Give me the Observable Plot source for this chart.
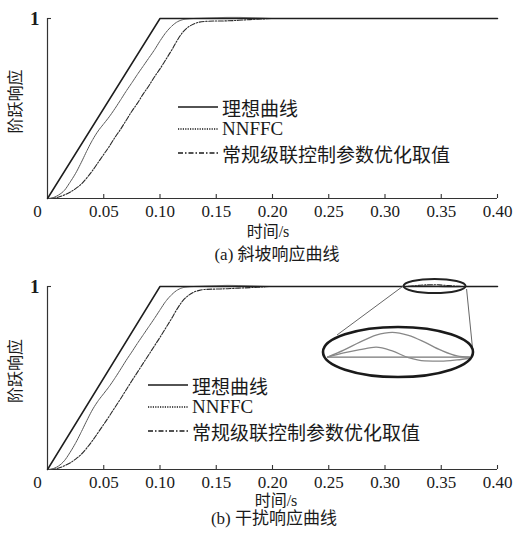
<!DOCTYPE html>
<html>
<head>
<meta charset="utf-8">
<script src="https://cdn.jsdelivr.net/npm/d3@7"></script>
<script src="https://cdn.jsdelivr.net/npm/@observablehq/plot@0.6"></script>
<style>
  html, body { margin: 0; padding: 0; background: #fff; }
  #wrap { position: relative; width: 527px; height: 542px; background: #fff; overflow: hidden;
          font-family: "Liberation Serif", "Noto Sans CJK SC", serif; color: #1a1a1a; }
  #wrap > * { position: absolute; }
  .lab { text-align: center; white-space: nowrap; font-size: 17px; line-height: 18px; }
  .leg { display: flex; align-items: center; height: 22px; font-size: 19px; white-space: nowrap; }
  .leg svg { margin-right: 4px; }
</style>
</head>
<body>
<div id="wrap"></div>
<script>
// ---------- data ----------
const xTicks = [0.05, 0.10, 0.15, 0.20, 0.25, 0.30, 0.35, 0.40];
const yTicks = [1];
const originTick = [0];
const seriesNames = ["理想曲线", "NNFFC", "常规级联控制参数优化取值"];

// ideal response
const idealT = [0, 0.1, 0.4];
const idealV = [0, 1, 1];

// (a) ramp response
const tA = [0,0.005,0.01,0.015,0.02,0.025,0.03,0.035,0.04,0.045,0.05,0.055,0.06,0.065,0.07,0.075,0.08,0.085,0.09,0.095,0.1,0.105,0.11,0.115,0.12,0.125,0.13,0.135,0.14,0.15,0.16,0.17,0.18,0.19,0.2,0.25,0.3,0.35,0.4];
const nnA = [0,0.005,0.02,0.045,0.09,0.14,0.2,0.265,0.325,0.375,0.415,0.455,0.5,0.548,0.597,0.643,0.69,0.735,0.78,0.825,0.875,0.92,0.955,0.98,0.993,0.998,1.0,1.001,1.002,1.004,1.006,1.006,1.004,1.002,1.0,1.0,1.0,1.0,1.0];
const convA = [0,0.002,0.008,0.02,0.035,0.055,0.08,0.115,0.155,0.2,0.245,0.29,0.34,0.385,0.435,0.485,0.53,0.58,0.625,0.675,0.72,0.77,0.82,0.875,0.922,0.952,0.97,0.98,0.984,0.986,0.987,0.99,0.994,0.997,1.0,1.0,1.0,1.0,1.0];

// (b) disturbance response
const tB = [0,0.005,0.01,0.015,0.02,0.025,0.03,0.035,0.04,0.045,0.05,0.055,0.06,0.065,0.07,0.075,0.08,0.085,0.09,0.095,0.1,0.105,0.11,0.115,0.12,0.125,0.13,0.135,0.14,0.15,0.16,0.17,0.18,0.19,0.2,0.25,0.3,
            0.318,0.324,0.33,0.336,0.342,0.348,0.354,0.36,0.366,0.371,0.4];
const nnB = [0,0.005,0.02,0.048,0.093,0.145,0.205,0.268,0.327,0.375,0.415,0.455,0.5,0.548,0.597,0.643,0.69,0.735,0.78,0.825,0.872,0.918,0.953,0.979,0.993,0.998,1.0,1.001,1.002,1.004,1.006,1.005,1.003,1.001,1.0,1.0,1.0,
             1.0,1.0017,1.003,1.004,1.0025,0.9998,0.9985,0.9984,0.9989,0.9996,1.0];
const convB = [0,0.002,0.008,0.02,0.036,0.057,0.083,0.118,0.158,0.202,0.247,0.292,0.34,0.387,0.436,0.485,0.532,0.58,0.627,0.675,0.722,0.772,0.822,0.875,0.92,0.95,0.969,0.979,0.984,0.986,0.988,0.991,0.994,0.997,1.0,1.0,1.0,
               1.0,1.0028,1.006,1.0088,1.0099,1.0087,1.006,1.0028,1.0005,1.0,1.0];

// zoomed window of panel (b)
const zoomT = [0.318, 0.371];

// ---------- helpers ----------
const SERIF = '"Liberation Serif","Noto Sans CJK SC",serif';
const CJK = '"Noto Sans CJK SC","Liberation Serif",sans-serif';
const rows = (t, v) => t.map((x, i) => ({x, y: v[i]}));

const styles = {
  ideal: {stroke: "#1e1e1e", strokeWidth: 1.5},
  nn: {stroke: "#555", strokeWidth: 1, strokeDasharray: "1.2,0.8"},
  conv: {stroke: "#2a2a2a", strokeWidth: 1.1, strokeDasharray: "5,1.6,1.4,1.6"}
};

const ML = 47, MR = 30, MT = 18, W = 527;

function panel(t, nn, conv, height, marginBottom) {
  const frameH = height - MT - marginBottom;
  const frameW = W - ML - MR;
  return Plot.plot({
    width: W, height,
    marginLeft: ML, marginRight: MR, marginTop: MT, marginBottom,
    x: {domain: [0, 0.4], axis: null},
    y: {domain: [0, 1], axis: null},
    style: {fontFamily: SERIF, fontSize: "17px", color: "#1a1a1a", background: "transparent", overflow: "visible"},
    marks: [
      Plot.ruleX([0], {stroke: "#333", strokeWidth: 1.2}),
      Plot.ruleY([0], {stroke: "#333", strokeWidth: 1.2}),
      // inward ticks
      Plot.tickX(xTicks, {x: d => d, insetTop: frameH - 4, stroke: "#333", strokeWidth: 1.1}),
      Plot.tickY(yTicks, {y: d => d, insetRight: frameW - 4, stroke: "#333", strokeWidth: 1.1}),
      // tick labels
      Plot.axisX({ticks: xTicks, tickSize: 0, tickPadding: 6, tickFormat: d3.format(".2f"), label: null, fontSize: 17}),
      Plot.axisY({ticks: yTicks, tickSize: 0, tickPadding: 8, tickFormat: d => String(d), label: null, fontSize: 19, fontWeight: "bold"}),
      Plot.text(originTick, {x: d => d, text: d => String(d), frameAnchor: "bottom", lineAnchor: "top", dx: -10, dy: 6, fontSize: 17}),
      Plot.text(["阶跃响应"], {frameAnchor: "left", textAnchor: "middle", rotate: -90, dx: -32, dy: -7, fontFamily: CJK, fontSize: 16}),
      Plot.line(rows(t, conv), {x: "x", y: "y", curve: "monotone-x", ...styles.conv}),
      Plot.line(rows(t, nn), {x: "x", y: "y", curve: "monotone-x", ...styles.nn}),
      Plot.line(rows(idealT, idealV), {x: "x", y: "y", ...styles.ideal})
    ]
  });
}

const wrap = document.getElementById("wrap");

const chartA = panel(tA, nnA, convA, 240, 42);
chartA.style.left = "0px"; chartA.style.top = "0px";
wrap.appendChild(chartA);

const topB = 268;
const chartB = panel(tB, nnB, convB, 241, 40);
chartB.style.left = "0px"; chartB.style.top = topB + "px";
wrap.appendChild(chartB);

// magnified inset of panel (b)
const inZoom = d => d.x >= zoomT[0] - 0.002 && d.x <= zoomT[1] + 0.002;
const inset = Plot.plot({
  width: 160, height: 45,
  marginLeft: 7, marginRight: 10, marginTop: 0, marginBottom: 0,
  x: {domain: zoomT, axis: null},
  y: {domain: [0.99468, 1.01268], axis: null},
  style: {background: "transparent"},
  marks: [
    Plot.line(rows(idealT, idealV), {x: "x", y: "y", stroke: "#777", strokeWidth: 1.2, clip: true}),
    Plot.line(rows(tB, nnB).filter(inZoom), {x: "x", y: "y", curve: "monotone-x", stroke: "#888", strokeWidth: 1.3, clip: true}),
    Plot.line(rows(tB, convB).filter(inZoom), {x: "x", y: "y", curve: "monotone-x", stroke: "#888", strokeWidth: 1.3, clip: true})
  ]
});
inset.style.left = "320px"; inset.style.top = "325px";
wrap.appendChild(inset);

// annotation: ellipses and connectors
let cx = 435, cy = 286;
try {
  cx = chartB.scale("x").apply((zoomT[0] + zoomT[1]) / 2);
  cy = topB + chartB.scale("y").apply(1);
} catch (e) {}
const ns = "http://www.w3.org/2000/svg";
const ov = document.createElementNS(ns, "svg");
ov.setAttribute("width", 527); ov.setAttribute("height", 542);
ov.style.left = "0px"; ov.style.top = "0px";
ov.innerHTML = `
  <line x1="${cx - 30}" y1="${cy - 1}" x2="337" y2="335" stroke="#666" stroke-width="1"/>
  <line x1="${cx + 32}" y1="${cy + 3}" x2="473" y2="353" stroke="#666" stroke-width="1"/>
  <ellipse cx="${cx}" cy="${cy}" rx="31" ry="7" fill="none" stroke="#222" stroke-width="2"/>
  <ellipse cx="398" cy="352" rx="75" ry="25" fill="none" stroke="#1a1a1a" stroke-width="2.6"/>`;
wrap.appendChild(ov);

// legends
function legend(left, top) {
  const dashes = [null, "1.2,1.2", "5,2,1.5,2"];
  seriesNames.forEach((name, i) => {
    const row = document.createElement("div");
    row.className = "leg";
    row.style.left = left + "px";
    row.style.top = (top + [0, 22, 46][i]) + "px";
    const dash = dashes[i] ? `stroke-dasharray="${dashes[i]}"` : "";
    row.innerHTML = `<svg width="40" height="22"><line x1="0" y1="11" x2="40" y2="11" stroke="#1a1a1a" stroke-width="1.4" ${dash}/></svg><span>${name}</span>`;
    wrap.appendChild(row);
  });
}
legend(178, 96);
legend(148, 374);

// axis titles and captions
function label(text, cxp, cyp, size) {
  const d = document.createElement("div");
  d.className = "lab";
  d.textContent = text;
  d.style.width = "300px";
  d.style.left = (cxp - 150) + "px";
  d.style.top = (cyp - 9) + "px";
  if (size) d.style.fontSize = size + "px";
  wrap.appendChild(d);
}
label("时间/s", 268, 232, 16);
label("(a) 斜坡响应曲线", 277, 255, 17);
label("时间/s", 276, 501, 16);
label("(b) 干扰响应曲线", 274, 519, 17);
</script>
</body>
</html>
